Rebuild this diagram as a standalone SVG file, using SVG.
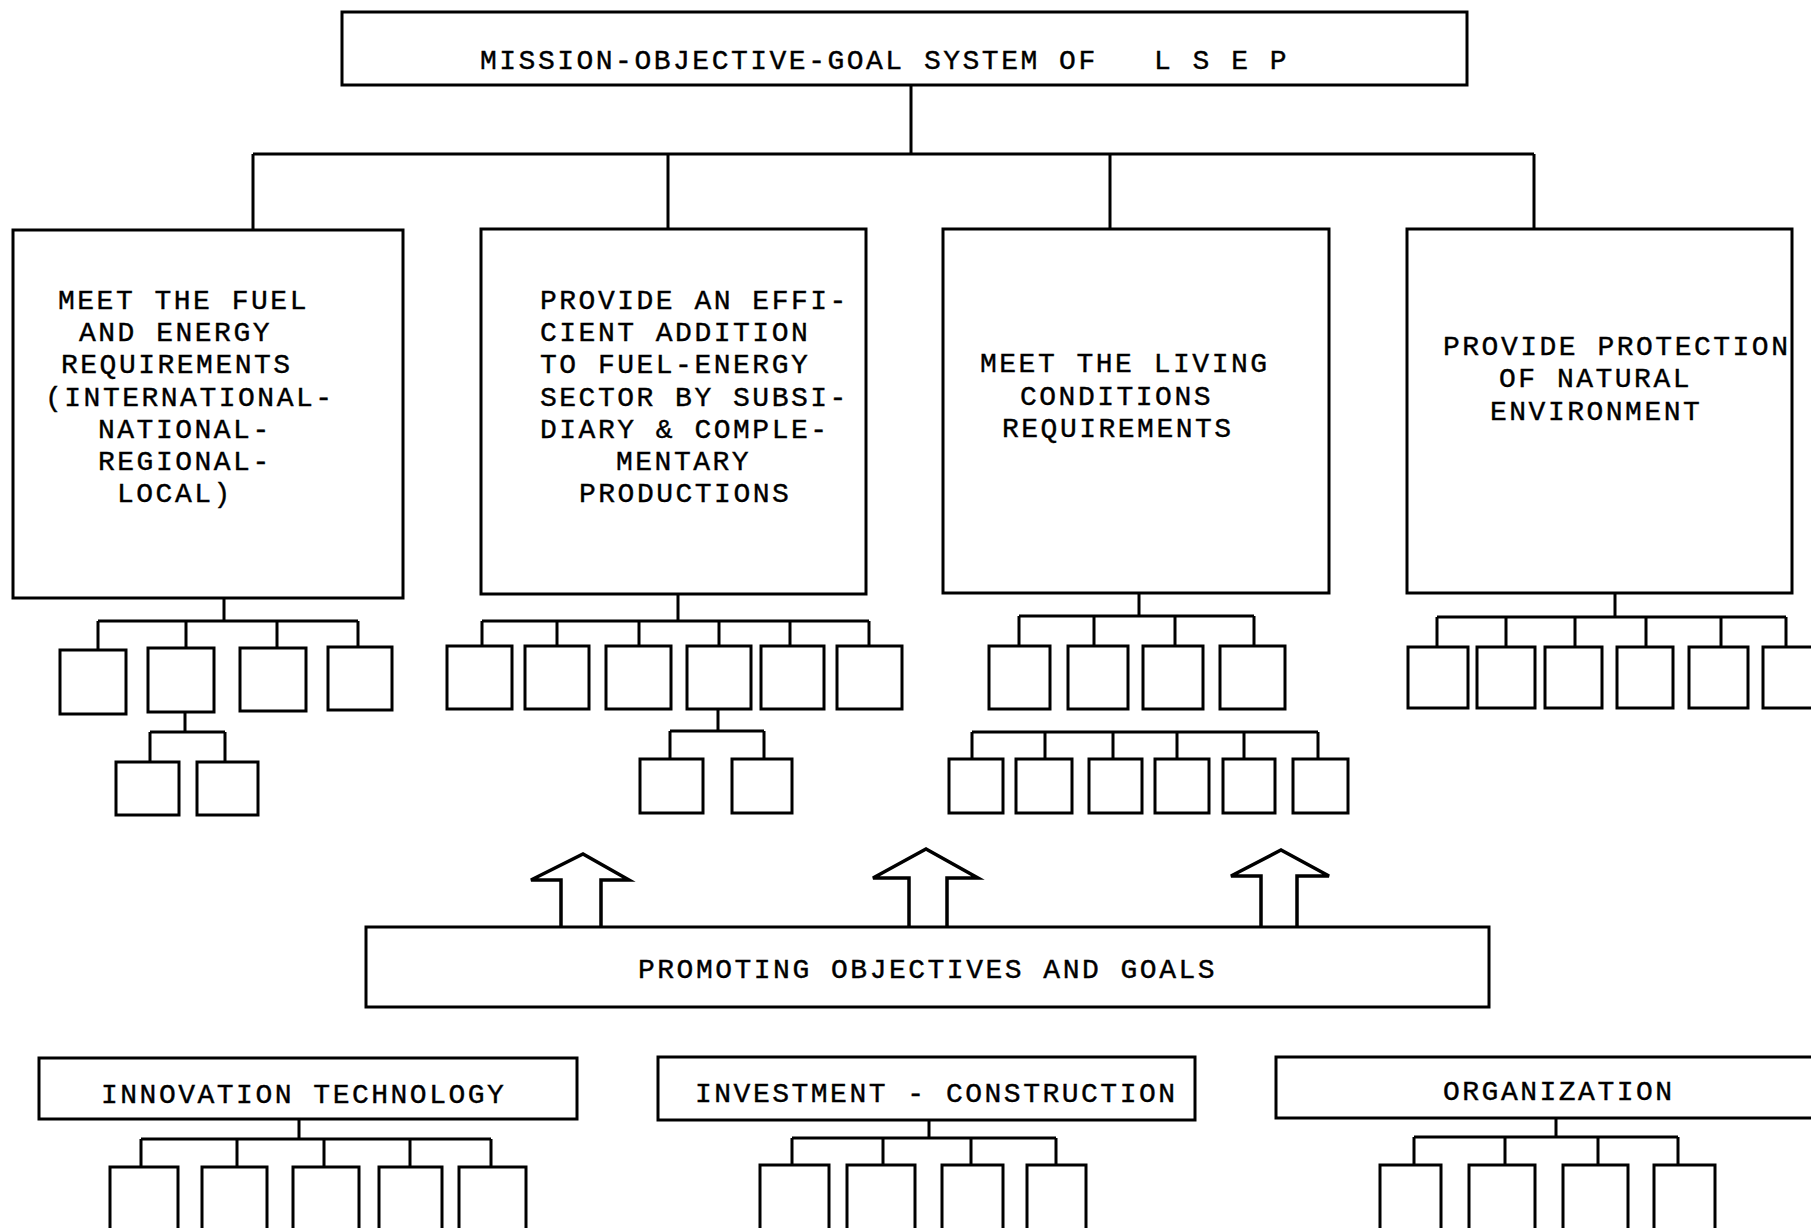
<svg xmlns="http://www.w3.org/2000/svg" width="1811" height="1228" viewBox="0 0 1811 1228">
<style>
.b{fill:#fff;stroke:#000;stroke-width:3}
.s{fill:#fff;stroke:#000;stroke-width:3}
.c{fill:none;stroke:#000;stroke-width:3}
.a{fill:#fff;stroke:#000;stroke-width:3.5;stroke-linejoin:miter}
text{font-family:"Liberation Mono","DejaVu Sans Mono",monospace;font-size:28px;letter-spacing:2.5px;fill:#000;stroke:#000;stroke-width:0.4}
</style>
<rect width="1811" height="1228" fill="#fff"/>
<g id="connectors">
<path class="c" d="M911,85V154M253,154H1534M253,154V230M668,154V229M1110,154V229M1534,154V229"/>
<path class="c" d="M224,598V621M98,621H358M98,621V650M186,621V648M277,621V648M358,621V648"/>
<path class="c" d="M185,712V732M150,732H225M150,732V762M225,732V762"/>
<path class="c" d="M678,594V621M482,621H869M482,621V646M557,621V646M639,621V646M719,621V646M790,621V646M869,621V646"/>
<path class="c" d="M718,709V731M670,731H764M670,731V759M764,731V759"/>
<path class="c" d="M1139,593V616M1019,616H1254M1019,616V646M1094,616V646M1175,616V646M1254,616V646"/>
<path class="c" d="M972,732H1318M972,732V759M1045,732V759M1113,732V759M1177,732V759M1244,732V759M1318,732V759"/>
<path class="c" d="M1615,593V617M1437,617H1786M1437,617V647M1506,617V647M1575,617V647M1646,617V647M1721,617V647M1786,617V647"/>
<path class="c" d="M299,1119V1139M141,1139H491M141,1139V1167M237,1139V1167M324,1139V1167M410,1139V1167M491,1139V1167"/>
<path class="c" d="M929,1121V1138M792,1138H1056M792,1138V1165M883,1138V1165M971,1138V1165M1056,1138V1165"/>
<path class="c" d="M1556,1118V1137M1414,1137H1678M1414,1137V1165M1505,1137V1165M1598,1137V1165M1678,1137V1165"/>
<path class="a" d="M561,927V880H531L583,854L629,880H601V927"/>
<path class="a" d="M909,927V878H873L926,849L978,878H947V927"/>
<path class="a" d="M1261,927V876H1231L1281,850L1329,876H1297V927"/>
</g>
<g id="mission">
<rect class="b" x="342" y="12" width="1125" height="73"/>
<text x="480" y="69">MISSION-OBJECTIVE-GOAL SYSTEM OF</text>
<text x="1154" y="69">L S E P</text>
</g>
<g id="obj1">
<rect class="b" x="13" y="230" width="390" height="368"/>
<text x="58" y="309">MEET THE FUEL</text>
<text x="79" y="341">AND ENERGY</text>
<text x="61" y="373">REQUIREMENTS</text>
<text x="45" y="406">(INTERNATIONAL-</text>
<text x="98" y="438">NATIONAL-</text>
<text x="98" y="470">REGIONAL-</text>
<text x="117" y="502">LOCAL)</text>
</g>
<g id="obj2">
<rect class="b" x="481" y="229" width="385" height="365"/>
<text x="540" y="309">PROVIDE AN EFFI-</text>
<text x="540" y="341">CIENT ADDITION</text>
<text x="540" y="373">TO FUEL-ENERGY</text>
<text x="540" y="406">SECTOR BY SUBSI-</text>
<text x="540" y="438">DIARY &amp; COMPLE-</text>
<text x="616" y="470">MENTARY</text>
<text x="579" y="502">PRODUCTIONS</text>
</g>
<g id="obj3">
<rect class="b" x="943" y="229" width="386" height="364"/>
<text x="980" y="372">MEET THE LIVING</text>
<text x="1020" y="405">CONDITIONS</text>
<text x="1002" y="437">REQUIREMENTS</text>
</g>
<g id="obj4">
<rect class="b" x="1407" y="229" width="385" height="364"/>
<text x="1443" y="355">PROVIDE PROTECTION</text>
<text x="1499" y="387">OF NATURAL</text>
<text x="1490" y="420">ENVIRONMENT</text>
</g>
<g id="obj1-goals">
<rect class="s" x="60" y="650" width="66" height="64"/>
<rect class="s" x="148" y="648" width="66" height="64"/>
<rect class="s" x="240" y="648" width="66" height="63"/>
<rect class="s" x="328" y="647" width="64" height="63"/>
<rect class="s" x="116" y="762" width="63" height="53"/>
<rect class="s" x="197" y="762" width="61" height="53"/>
</g>
<g id="obj2-goals">
<rect class="s" x="447" y="646" width="65" height="63"/>
<rect class="s" x="525" y="646" width="64" height="63"/>
<rect class="s" x="606" y="646" width="65" height="63"/>
<rect class="s" x="687" y="646" width="64" height="63"/>
<rect class="s" x="761" y="646" width="63" height="63"/>
<rect class="s" x="837" y="646" width="65" height="63"/>
<rect class="s" x="640" y="759" width="63" height="54"/>
<rect class="s" x="732" y="759" width="60" height="54"/>
</g>
<g id="obj3-goals">
<rect class="s" x="989" y="646" width="61" height="63"/>
<rect class="s" x="1068" y="646" width="60" height="63"/>
<rect class="s" x="1143" y="646" width="60" height="63"/>
<rect class="s" x="1220" y="646" width="65" height="63"/>
<rect class="s" x="949" y="759" width="54" height="54"/>
<rect class="s" x="1016" y="759" width="56" height="54"/>
<rect class="s" x="1089" y="759" width="53" height="54"/>
<rect class="s" x="1155" y="759" width="54" height="54"/>
<rect class="s" x="1223" y="759" width="52" height="54"/>
<rect class="s" x="1293" y="759" width="55" height="54"/>
</g>
<g id="obj4-goals">
<rect class="s" x="1408" y="647" width="60" height="61"/>
<rect class="s" x="1477" y="647" width="58" height="61"/>
<rect class="s" x="1545" y="647" width="57" height="61"/>
<rect class="s" x="1617" y="647" width="56" height="61"/>
<rect class="s" x="1689" y="647" width="59" height="61"/>
<rect class="s" x="1763" y="647" width="70" height="61"/>
</g>
<g id="promoting">
<rect class="b" x="366" y="927" width="1123" height="80"/>
<text x="638" y="978">PROMOTING OBJECTIVES AND GOALS</text>
</g>
<g id="innovation">
<rect class="b" x="39" y="1058" width="538" height="61"/>
<text x="101" y="1103">INNOVATION TECHNOLOGY</text>
<rect class="s" x="110" y="1167" width="68" height="80"/>
<rect class="s" x="202" y="1167" width="65" height="80"/>
<rect class="s" x="293" y="1167" width="66" height="80"/>
<rect class="s" x="379" y="1167" width="63" height="80"/>
<rect class="s" x="459" y="1167" width="67" height="80"/>
</g>
<g id="investment">
<rect class="b" x="658" y="1057" width="537" height="63"/>
<text x="695" y="1102">INVESTMENT - CONSTRUCTION</text>
<rect class="s" x="760" y="1165" width="69" height="80"/>
<rect class="s" x="847" y="1165" width="68" height="80"/>
<rect class="s" x="942" y="1165" width="61" height="80"/>
<rect class="s" x="1027" y="1165" width="59" height="80"/>
</g>
<g id="organization">
<rect class="b" x="1276" y="1057" width="560" height="61"/>
<text x="1443" y="1100">ORGANIZATION</text>
<rect class="s" x="1380" y="1165" width="61" height="80"/>
<rect class="s" x="1469" y="1165" width="66" height="80"/>
<rect class="s" x="1563" y="1165" width="65" height="80"/>
<rect class="s" x="1654" y="1165" width="61" height="80"/>
</g>
</svg>
